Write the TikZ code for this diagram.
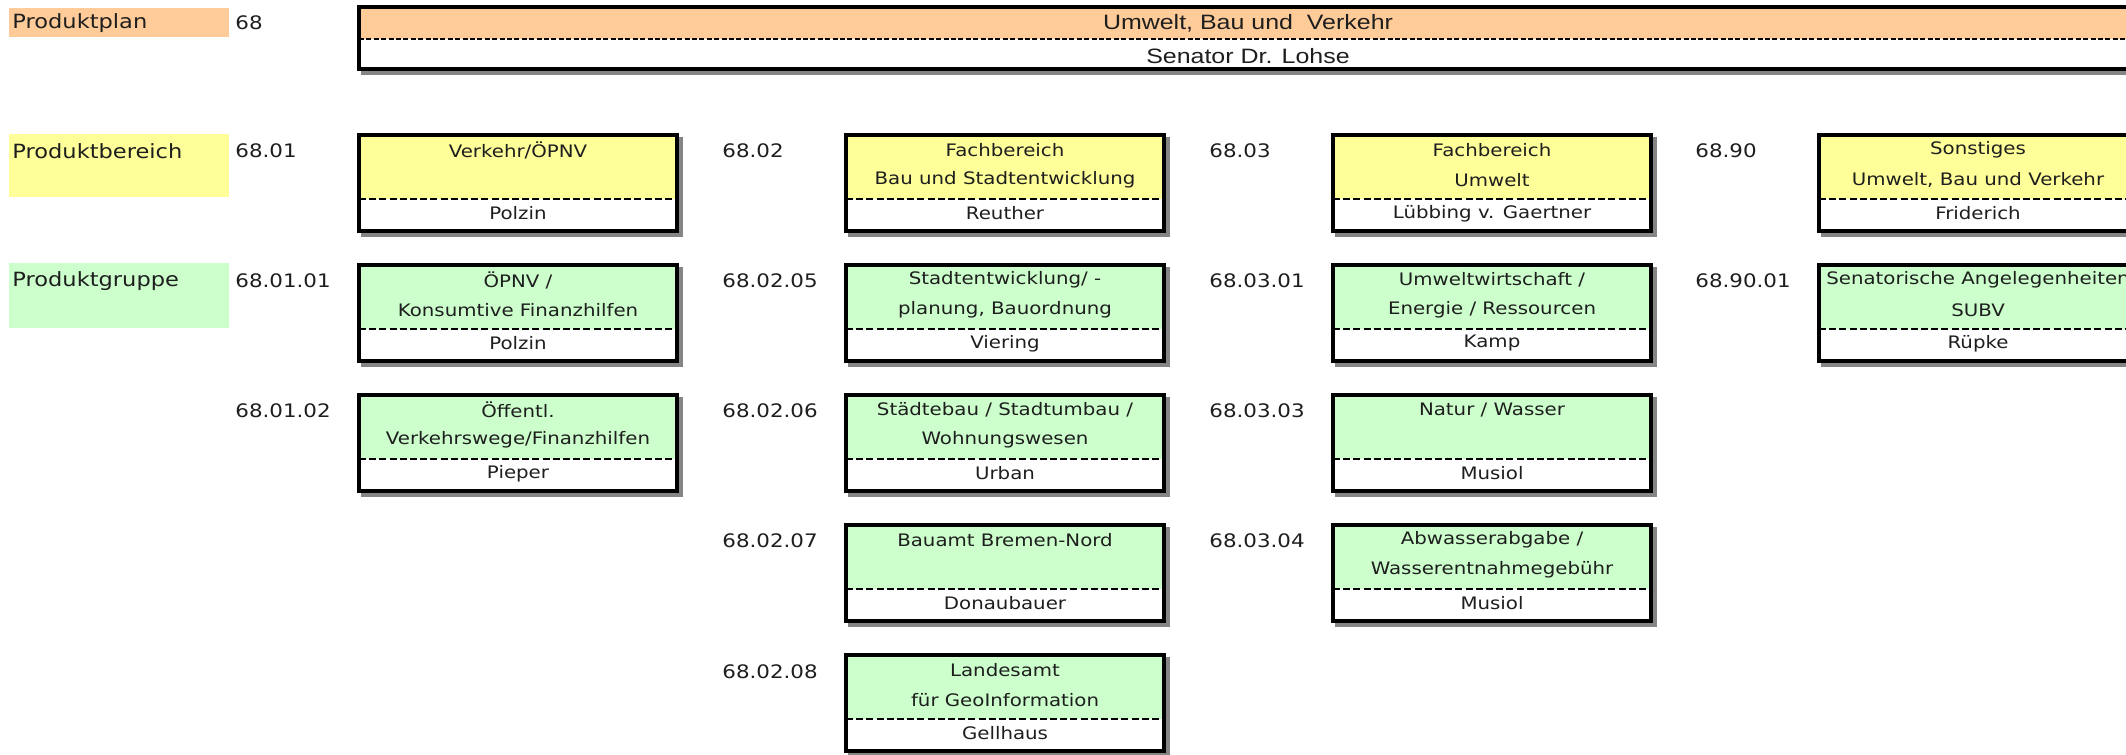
\documentclass[tikz,border=0pt]{standalone}
\usepackage{fontspec}
\setmainfont[FakeStretch=1.15]{DejaVu Sans}
\newfontfamily\topfont[FakeStretch=1.2]{Liberation Sans}
\definecolor{cOrange}{HTML}{FFCC99}
\definecolor{cYellow}{HTML}{FFFF99}
\definecolor{cGreen}{HTML}{CCFFCC}
\definecolor{cShadow}{HTML}{858585}
\definecolor{cText}{HTML}{1E1E1E}
\tikzset{
  frame/.style={draw=black, line width=2pt, inner sep=0pt, outer sep=0pt, anchor=north west},
  shadowfill/.style={fill=cShadow},
  dashsep/.style={draw=black, line width=1.3pt, dash pattern=on 3.5pt off 1.6pt},
  boxtxt/.style={text=cText, font=\fontsize{8.6pt}{10pt}\selectfont, inner sep=0pt},
  toptxt/.style={text=cText, font=\topfont\fontsize{10.4pt}{12pt}\selectfont, inner sep=0pt},
  lbltxt/.style={text=cText, font=\fontsize{9.8pt}{12pt}\selectfont, inner sep=0pt, anchor=west},
  numtxt/.style={text=cText, font=\fontsize{9.3pt}{12pt}\selectfont, inner sep=0pt, anchor=west},
}
\newcommand{\orgbox}[7]{%
  \fill[shadowfill] (#2+4,#3+4) rectangle (#2+326,#3+104);
  \fill[#4] (#2+2,#3+2) rectangle (#2+320,#3+66);
  \fill[white] (#2+2,#3+66) rectangle (#2+320,#3+98);
  \draw[dashsep] (#2+2,#3+66) -- (#2+320,#3+66);
  \node[frame, minimum width=159pt, minimum height=48pt] (#1) at (#2+2,#3+2) {};
  \node[boxtxt] (#1-a) at (#2+161,#3+17) {#5};
  \node[boxtxt] (#1-b) at (#2+161,#3+47) {#6};
  \node[boxtxt] (#1-c) at (#2+161,#3+80.5) {#7};
}
\begin{document}
\begin{tikzpicture}[x=0.5pt,y=-0.5pt]
\useasboundingbox (0,0) rectangle (2126,755);
% left labels
\fill[cOrange] (9,8) rectangle (229,37);
\node[lbltxt] (lplan) at (12,23) {Produktplan};
\fill[cYellow] (9,134) rectangle (229,197);
\node[lbltxt] (lber) at (12,151) {Produktbereich};
\fill[cGreen] (9,263) rectangle (229,328);
\node[lbltxt] (lgrp) at (12,281) {Produktgruppe};
% top box
\fill[shadowfill] (361,9) rectangle (2145,75);
\fill[cOrange] (359,7) rectangle (2137,39);
\fill[white] (359,39) rectangle (2137,69);
\draw[dashsep, line width=1pt, dash pattern=on 2.5pt off 1.2pt] (359,39) -- (2137,39);
\node[frame, minimum width=889pt, minimum height=31pt] (top) at (359,7) {};
\node[toptxt] (top-a) at (1248,23) {Umwelt, Bau und\ \ Verkehr};
\node[toptxt] (top-b) at (1248,56) {Senator Dr. Lohse};
% numbers
\node[numtxt] (n68) at (235,23) {68};
\node[numtxt] (n6801) at (235,151) {68.01};
\node[numtxt] (n6802) at (722,151) {68.02};
\node[numtxt] (n6803) at (1209,151) {68.03};
\node[numtxt] (n6890) at (1695,151) {68.90};
\node[numtxt] (n680101) at (235,281) {68.01.01};
\node[numtxt] (n680205) at (722,281) {68.02.05};
\node[numtxt] (n680301) at (1209,281) {68.03.01};
\node[numtxt] (n689001) at (1695,281) {68.90.01};
\node[numtxt] (n680102) at (235,411) {68.01.02};
\node[numtxt] (n680206) at (722,411) {68.02.06};
\node[numtxt] (n680303) at (1209,411) {68.03.03};
\node[numtxt] (n680207) at (722,541) {68.02.07};
\node[numtxt] (n680304) at (1209,541) {68.03.04};
\node[numtxt] (n680208) at (722,672) {68.02.08};
% boxes
\orgbox{b11}{357}{133}{cYellow}{Verkehr/ÖPNV}{}{Polzin}
\orgbox{b12}{357}{263}{cGreen}{ÖPNV /}{Konsumtive Finanzhilfen}{Polzin}
\orgbox{b13}{357}{393}{cGreen}{Öffentl.}{Verkehrswege/Finanzhilfen}{Pieper}
\orgbox{b21}{844}{133}{cYellow}{Fachbereich}{Bau und Stadtentwicklung}{Reuther}
\orgbox{b22}{844}{263}{cGreen}{Stadtentwicklung/ -}{planung, Bauordnung}{Viering}
\orgbox{b23}{844}{393}{cGreen}{Städtebau / Stadtumbau /}{Wohnungswesen}{Urban}
\orgbox{b24}{844}{523}{cGreen}{Bauamt Bremen-Nord}{}{Donaubauer}
\orgbox{b25}{844}{653}{cGreen}{Landesamt}{für GeoInformation}{Gellhaus}
\orgbox{b31}{1331}{133}{cYellow}{Fachbereich}{Umwelt}{Lübbing v. Gaertner}
\orgbox{b32}{1331}{263}{cGreen}{Umweltwirtschaft /}{Energie / Ressourcen}{Kamp}
\orgbox{b33}{1331}{393}{cGreen}{Natur / Wasser}{}{Musiol}
\orgbox{b34}{1331}{523}{cGreen}{Abwasserabgabe /}{Wasserentnahmegebühr}{Musiol}
\orgbox{b41}{1817}{133}{cYellow}{Sonstiges}{Umwelt, Bau und Verkehr}{Friderich}
\orgbox{b42}{1817}{263}{cGreen}{Senatorische Angelegenheiten}{SUBV}{Rüpke}
\end{tikzpicture}
\end{document}
